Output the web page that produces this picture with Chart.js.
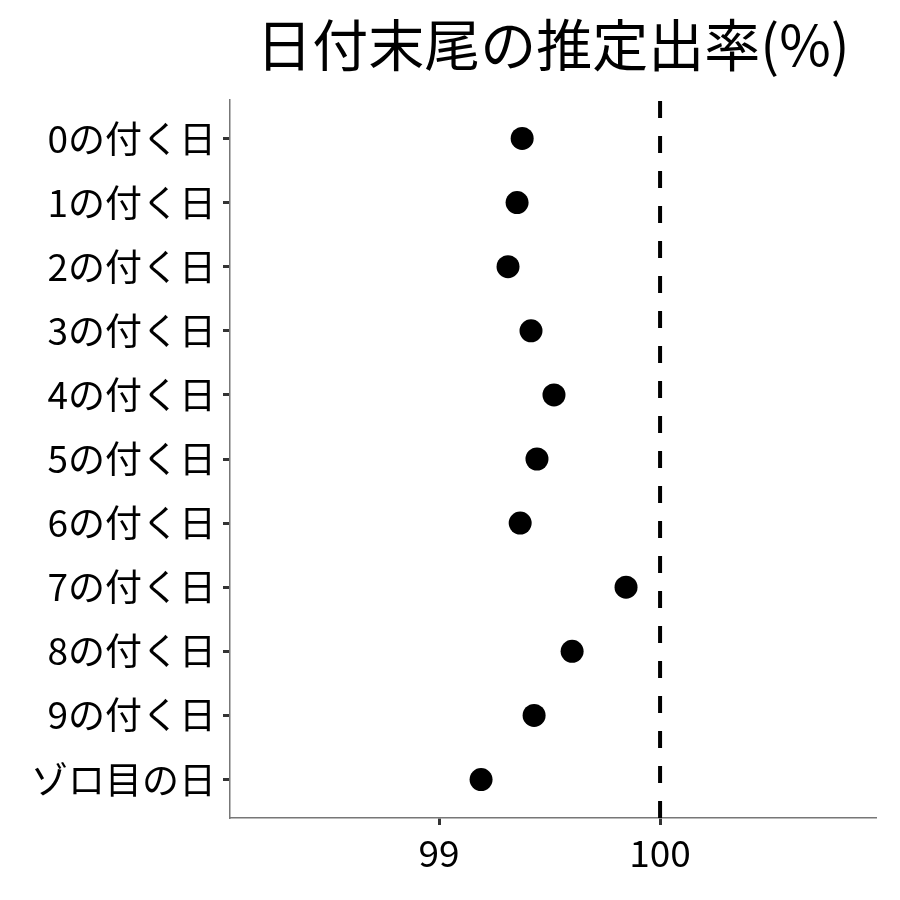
<!DOCTYPE html>
<html>
<head>
<meta charset="utf-8">
<script src="https://cdn.jsdelivr.net/npm/chart.js@4/dist/chart.umd.min.js"></script>
<style>
html,body{margin:0;padding:0;background:#fff;}
#wrap{width:900px;height:900px;position:relative;}
</style>
</head>
<body>
<div id="wrap"><canvas id="c" width="900" height="900"></canvas></div>
<script>
const categories = ["0の付く日","1の付く日","2の付く日","3の付く日","4の付く日","5の付く日","6の付く日","7の付く日","8の付く日","9の付く日","ゾロ目の日"];
const rates = [99.376, 99.353, 99.312, 99.416, 99.520, 99.443, 99.367, 99.846, 99.602, 99.430, 99.190];
const xTicks = [99, 100];
const refValue = 100;
const titleText = "日付末尾の推定出率(%)";

const FONT = "'Noto Sans CJK JP','Noto Sans',sans-serif";

const points = rates.map((v, i) => ({x: v, y: i}));

const refLine = {
  id: 'refLine',
  beforeDatasetsDraw(chart) {
    const {ctx, chartArea, scales} = chart;
    const x = scales.x.getPixelForValue(refValue);
    ctx.save();
    ctx.strokeStyle = '#000';
    ctx.lineWidth = 4;
    ctx.setLineDash([17, 18]);
    ctx.beginPath();
    ctx.moveTo(x, chartArea.bottom);
    ctx.lineTo(x, chartArea.top);
    ctx.stroke();
    ctx.restore();
  }
};

const titlePlugin = {
  id: 'titleDraw',
  afterDraw(chart) {
    const {ctx, chartArea} = chart;
    ctx.save();
    ctx.fillStyle = '#000';
    ctx.font = "56px " + FONT;
    ctx.textAlign = 'center';
    ctx.textBaseline = 'middle';
    ctx.fillText(titleText, (chartArea.left + chartArea.right) / 2, 45);
    ctx.restore();
  }
};

new Chart(document.getElementById('c'), {
  type: 'scatter',
  data: {
    datasets: [{
      data: points,
      backgroundColor: '#000',
      borderColor: '#000',
      pointRadius: 11.5,
      pointHoverRadius: 11.5,
      borderWidth: 0
    }]
  },
  options: {
    responsive: false,
    animation: false,
    devicePixelRatio: 1,
    layout: {padding: {top: 100, right: 24, left: 0, bottom: 0}},
    plugins: {legend: {display: false}, tooltip: {enabled: false}, title: {display: false}},
    scales: {
      x: {
        type: 'linear',
        min: 98.054,
        max: 100.977,
        afterBuildTicks(scale) { scale.ticks = xTicks.map(v => ({value: v})); },
        afterFit(scale) { scale.height = 82; },
        grid: {drawOnChartArea: false, drawTicks: true, tickLength: 7, tickColor: '#333', tickWidth: 3},
        border: {display: true, color: '#777', width: 1.5},
        ticks: {color: '#000', font: {family: FONT, size: 37}, padding: 6, maxRotation: 0}
      },
      y: {
        type: 'linear',
        reverse: true,
        min: -0.6,
        max: 10.6,
        afterBuildTicks(scale) { scale.ticks = categories.map((c, i) => ({value: i})); },
        afterFit(scale) { scale.width = 230; },
        grid: {drawOnChartArea: false, drawTicks: true, tickLength: 7, tickColor: '#333', tickWidth: 3},
        border: {display: true, color: '#777', width: 1.5},
        ticks: {
          color: '#000',
          font: {family: FONT, size: 37},
          padding: 7,
          callback: (v) => categories[Math.round(v)]
        }
      }
    }
  },
  plugins: [refLine, titlePlugin]
});
</script>
</body>
</html>
